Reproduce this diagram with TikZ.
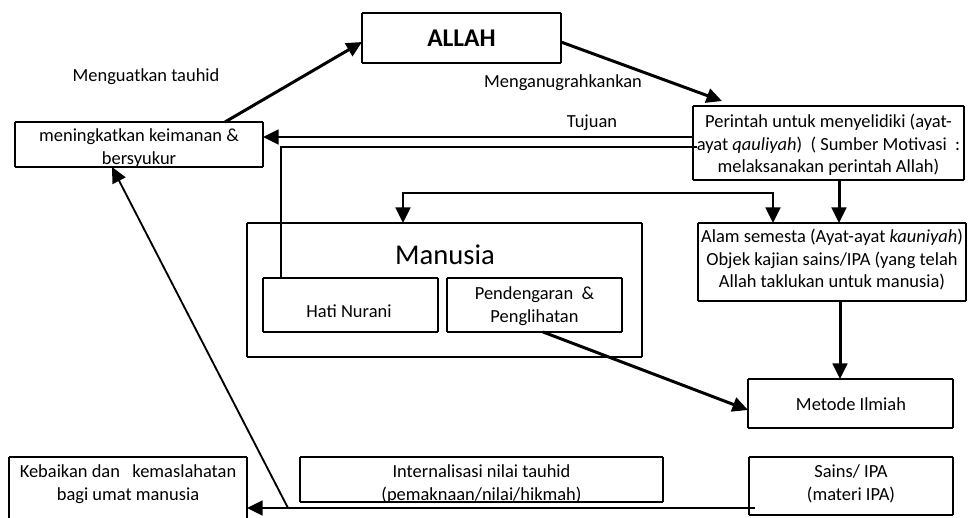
\documentclass[tikz,border=0pt]{standalone}
\usepackage{fontspec}
\setmainfont{Carlito}
\usepackage{tikz}
\pgfdeclarelayer{nodelayer}
\pgfdeclarelayer{edgelayer}
\pgfsetlayers{edgelayer,nodelayer,main}
\usetikzlibrary{arrows.meta}

\begin{document}
\begin{tikzpicture}[
	>={Triangle[length=0.31cm,width=0.29cm]},
	box/.style={line width=1.15pt},
	thinline/.style={line width=1.05pt},
	arrow/.style={->,line width=1.7pt},
	txt/.style={align=center,inner sep=0pt,font=\fontsize{10.5}{12.8}\selectfont}
]
	\useasboundingbox (0,0) rectangle (19.36,10.36);
	\begin{pgfonlayer}{nodelayer}
		\node [] (0) at (7.24, 10.1) {};
		\node [] (1) at (7.24, 9.1) {};
		\node [] (2) at (11.22, 9.1) {};
		\node [] (3) at (11.22, 10.1) {};
		\node [] (4) at (0.3, 7.92) {};
		\node [] (5) at (0.3, 7.02) {};
		\node [] (6) at (5.26, 7.02) {};
		\node [] (7) at (5.26, 7.92) {};
		\node [] (8) at (13.86, 8.24) {};
		\node [] (9) at (13.86, 6.76) {};
		\node [] (10) at (19.28, 6.76) {};
		\node [] (11) at (19.28, 8.24) {};
		\node [] (12) at (4.94, 5.9) {};
		\node [] (13) at (4.94, 3.22) {};
		\node [] (14) at (12.84, 3.22) {};
		\node [] (15) at (12.84, 5.9) {};
		\node [] (16) at (5.26, 4.8) {};
		\node [] (17) at (5.26, 3.72) {};
		\node [] (18) at (8.76, 3.72) {};
		\node [] (19) at (8.76, 4.8) {};
		\node [] (20) at (8.94, 4.8) {};
		\node [] (21) at (8.94, 3.72) {};
		\node [] (22) at (12.44, 3.72) {};
		\node [] (23) at (12.44, 4.8) {};
		\node [] (24) at (13.96, 5.9) {};
		\node [] (25) at (13.96, 4.34) {};
		\node [] (26) at (19.32, 4.34) {};
		\node [] (27) at (19.32, 5.9) {};
		\node [] (28) at (14.96, 2.78) {};
		\node [] (29) at (14.96, 1.8) {};
		\node [] (30) at (19.06, 1.8) {};
		\node [] (31) at (19.06, 2.78) {};
		\node [] (32) at (0.18, 1.22) {};
		\node [] (33) at (0.18, 0) {};
		\node [] (34) at (4.94, 0) {};
		\node [] (35) at (4.94, 1.22) {};
		\node [] (36) at (6, 1.22) {};
		\node [] (37) at (6, 0.32) {};
		\node [] (38) at (13.26, 0.32) {};
		\node [] (39) at (13.26, 1.22) {};
		\node [] (40) at (14.98, 1.22) {};
		\node [] (41) at (14.98, 0.06) {};
		\node [] (42) at (19.06, 0.06) {};
		\node [] (43) at (19.06, 1.22) {};
		\node [] (44) at (4.5, 7.92) {};
		\node [] (45) at (7.24, 9.52) {};
		\node [] (46) at (11.22, 9.52) {};
		\node [] (47) at (14.44, 8.34) {};
		\node [] (48) at (13.86, 7.62) {};
		\node [] (49) at (5.26, 7.62) {};
		\node [] (50) at (5.62, 4.8) {};
		\node [] (51) at (5.62, 7.42) {};
		\node [] (52) at (13.94, 7.42) {};
		\node [] (53) at (8.06, 5.9) {};
		\node [] (54) at (8.06, 6.5) {};
		\node [] (55) at (15.46, 6.5) {};
		\node [] (56) at (15.46, 5.9) {};
		\node [] (57) at (16.78, 6.76) {};
		\node [] (58) at (16.78, 5.9) {};
		\node [] (59) at (16.8, 4.34) {};
		\node [] (60) at (16.8, 2.78) {};
		\node [] (61) at (10.86, 3.72) {};
		\node [] (62) at (14.96, 2.16) {};
		\node [] (63) at (15.1, 0.2) {};
		\node [] (64) at (4.94, 0.2) {};
		\node [] (65) at (5.76, 0.2) {};
		\node [] (66) at (2.24, 7.02) {};
		\node [txt,font=\fontsize{14.5}{16}\selectfont\bfseries] (67) at (9.23, 9.6) {ALLAH};
		\node [txt] (68) at (2.78, 7.4) {meningkatkan keimanan \&\\bersyukur};
		\node [txt] (69) at (2.92, 8.82) {Menguatkan tauhid};
		\node [txt] (70) at (11.26, 8.7) {Menganugrahkankan};
		\node [txt] (71) at (11.84, 7.9) {Tujuan};
		\node [txt] (72) at (16.57, 7.46) {Perintah untuk menyelidiki (ayat-\\ayat \textit{qauliyah})\ \ ( Sumber Motivasi\ \ :\\melaksanakan perintah Allah)};
		\node [txt,font=\fontsize{16.3}{19}\selectfont] (73) at (8.9, 5.26) {Manusia};
		\node [txt] (74) at (6.98, 4.14) {Hati Nurani};
		\node [txt] (75) at (10.69, 4.24) {Pendengaran\ \ \&\\Penglihatan};
		\node [txt] (76) at (16.64, 5.16) {Alam semesta (Ayat-ayat \textit{kauniyah})\\Objek kajian sains/IPA (yang telah\\Allah taklukan untuk manusia)};
		\node [txt] (77) at (17.02, 2.28) {Metode Ilmiah};
		\node [txt] (78) at (2.56, 0.68) {Kebaikan dan\ \ \ kemaslahatan\\bagi umat manusia};
		\node [txt] (79) at (9.63, 0.68) {Internalisasi nilai tauhid\\(pemaknaan/nilai/hikmah)};
		\node [txt] (80) at (17.02, 0.68) {Sains/ IPA\\(materi IPA)};
	\end{pgfonlayer}
	\begin{pgfonlayer}{edgelayer}
		\draw [box] (0.center) to (1.center);
		\draw [box] (1.center) to (2.center);
		\draw [box] (2.center) to (3.center);
		\draw [box] (3.center) to (0.center);
		\draw [box] (4.center) to (5.center);
		\draw [box] (5.center) to (6.center);
		\draw [box] (6.center) to (7.center);
		\draw [box] (7.center) to (4.center);
		\draw [box] (8.center) to (9.center);
		\draw [box] (9.center) to (10.center);
		\draw [box] (10.center) to (11.center);
		\draw [box] (11.center) to (8.center);
		\draw [box] (12.center) to (13.center);
		\draw [box] (13.center) to (14.center);
		\draw [box] (14.center) to (15.center);
		\draw [box] (15.center) to (12.center);
		\draw [box] (16.center) to (17.center);
		\draw [box] (17.center) to (18.center);
		\draw [box] (18.center) to (19.center);
		\draw [box] (19.center) to (16.center);
		\draw [box] (20.center) to (21.center);
		\draw [box] (21.center) to (22.center);
		\draw [box] (22.center) to (23.center);
		\draw [box] (23.center) to (20.center);
		\draw [box] (24.center) to (25.center);
		\draw [box] (25.center) to (26.center);
		\draw [box] (26.center) to (27.center);
		\draw [box] (27.center) to (24.center);
		\draw [box] (28.center) to (29.center);
		\draw [box] (29.center) to (30.center);
		\draw [box] (30.center) to (31.center);
		\draw [box] (31.center) to (28.center);
		\draw [box] (32.center) to (33.center);
		\draw [box] (34.center) to (35.center);
		\draw [box] (35.center) to (32.center);
		\draw [box] (36.center) to (37.center);
		\draw [box] (37.center) to (38.center);
		\draw [box] (38.center) to (39.center);
		\draw [box] (39.center) to (36.center);
		\draw [box] (40.center) to (41.center);
		\draw [box] (41.center) to (42.center);
		\draw [box] (42.center) to (43.center);
		\draw [box] (43.center) to (40.center);
		\draw [arrow] (44.center) to (45.center);
		\draw [arrow] (46.center) to (47.center);
		\draw [arrow] (48.center) to (49.center);
		\draw [thinline] (50.center) to (51.center) to (52.center);
		\draw [arrow,<->] (53.center) to (54.center) to (55.center) to (56.center);
		\draw [arrow] (57.center) to (58.center);
		\draw [arrow] (59.center) to (60.center);
		\draw [arrow] (61.center) to (62.center);
		\draw [arrow] (63.center) to (64.center);
		\draw [thinline,->] (65.center) to (66.center);
	\end{pgfonlayer}
\end{tikzpicture}
\end{document}
